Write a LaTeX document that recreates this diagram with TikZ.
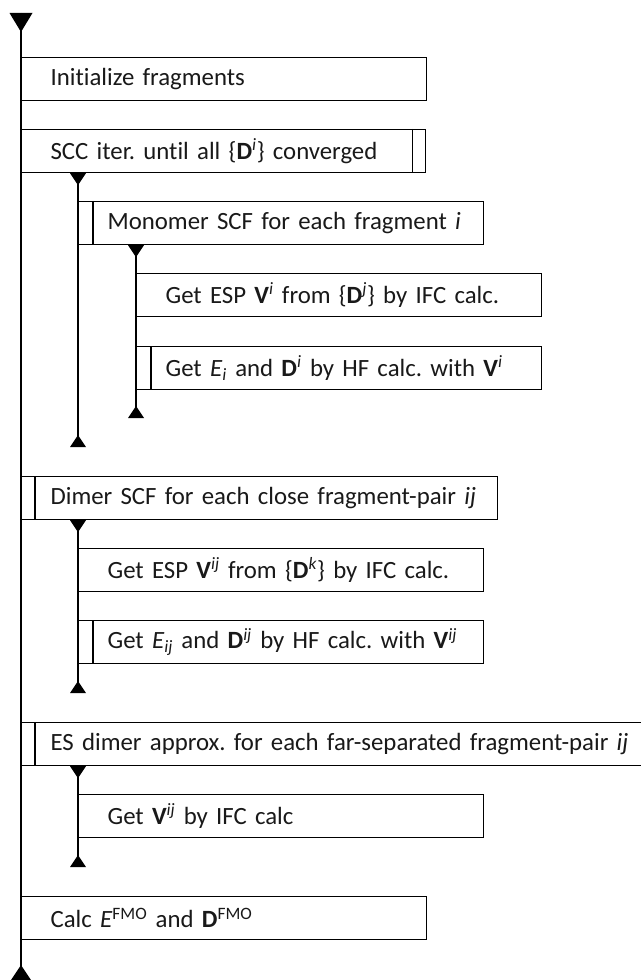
\documentclass[tikz,border=0pt]{standalone}
\usepackage{fontspec}
\setmainfont{Carlito}[Ligatures=NoCommon]
\usetikzlibrary{calc}
\frenchspacing
\begin{document}
\begin{tikzpicture}[x=0.75pt,y=-0.75pt,
  box/.style={draw, line width=0.9pt, anchor=north west, minimum height=32.25pt,
    inner ysep=0pt, inner xsep=21.75pt, text width=260.25pt, align=left,
    font=\fontsize{18.6}{21}\selectfont, text=black!90},
  mainline/.style={line width=1.5pt},
  subline/.style={line width=0.9pt},
  barline/.style={line width=0.9pt},
  smalldown/.pic={\fill (-8,0) -- (8,0) -- (0,12) -- cycle;},
  smallup/.pic={\fill (-8,0) -- (8,0) -- (0,-12) -- cycle;},
  bigdown/.pic={\fill (-11.5,0) -- (11.5,0) -- (0,19) -- cycle;},
  bigup/.pic={\fill (-12,0) -- (12,0) -- (0,-18) -- cycle;}]
\useasboundingbox[fill=white] (0,0) rectangle (641,980);

% main flow line
\coordinate (mtop) at (21,13);
\coordinate (mbot) at (21,983);
\draw[mainline] (mtop) -- (mbot);
\pic at (mtop) {bigdown};
\pic at (mbot) {bigup};

% boxes
\node[box] (b1) at (21,57) {\mbox{Initialize fragments}};
\node[box, text width=259.5pt] (b2) at (21,129) {\mbox{SCC iter. until all \{\textbf{D}\textsuperscript{\textit{i}}\} converged}};
\node[box] (b3) at (78,201) {\mbox{Monomer SCF for each fragment \textit{i}}};
\node[box] (b4) at (136,273) {\mbox{Get ESP \textbf{V}\textsuperscript{\textit{i}} from \{\textbf{D}\textsuperscript{\textit{j}}\} by IFC calc.}};
\node[box] (b5) at (136,346) {\mbox{Get \textit{E}\textsubscript{\textit{i}} and \textbf{D}\textsuperscript{\textit{i}} by HF calc. with \textbf{V}\textsuperscript{\textit{i}}}};
\node[box, text width=313.5pt] (b6) at (21,476) {\mbox{Dimer SCF for each close fragment-pair \textit{ij}}};
\node[box] (b7) at (78,548) {\mbox{Get ESP \textbf{V}\textsuperscript{\textit{ij}} from \{\textbf{D}\textsuperscript{\textit{k}}\} by IFC calc.}};
\node[box] (b8) at (78,620) {\mbox{Get \textit{E}\textsubscript{\textit{ij}} and \textbf{D}\textsuperscript{\textit{ij}} by HF calc. with \textbf{V}\textsuperscript{\textit{ij}}}};
\node[box, text width=451.5pt] (b9) at (21,722) {\mbox{ES dimer approx. for each far-separated fragment-pair \textit{ij}}};
\node[box] (b10) at (78,794) {\mbox{Get \textbf{V}\textsuperscript{\textit{ij}} by IFC calc}};
\node[box] (b11) at (21,896) {\mbox{Calc \textit{E}\textsuperscript{FMO} and \textbf{D}\textsuperscript{FMO}}};

% inner bars of loop boxes
\draw[barline] ($(b2.north east)+(-14,0)$) -- ($(b2.south east)+(-14,0)$);
\draw[barline] ($(b3.north west)+(15,0)$) -- ($(b3.south west)+(15,0)$);
\draw[barline] ($(b5.north west)+(15,0)$) -- ($(b5.south west)+(15,0)$);
\draw[barline] ($(b6.north west)+(14,0)$) -- ($(b6.south west)+(14,0)$);
\draw[barline] ($(b8.north west)+(15,0)$) -- ($(b8.south west)+(15,0)$);
\draw[barline] ($(b9.north west)+(14,0)$) -- ($(b9.south west)+(14,0)$);

% sub flow lines
\coordinate (s1b) at (78,447);
\coordinate (s2b) at (136,418);
\coordinate (s3b) at (78,693);
\coordinate (s4b) at (78,867);
\draw[subline] (b2.south -| s1b) coordinate (s1t) -- (s1b);
\draw[subline] (b3.south -| s2b) coordinate (s2t) -- (s2b);
\draw[subline] (b6.south -| s3b) coordinate (s3t) -- (s3b);
\draw[subline] (b9.south -| s4b) coordinate (s4t) -- (s4b);
\pic at (s1t) {smalldown};
\pic at (s2t) {smalldown};
\pic at (s3t) {smalldown};
\pic at (s4t) {smalldown};
\pic at (s1b) {smallup};
\pic at (s2b) {smallup};
\pic at (s3b) {smallup};
\pic at (s4b) {smallup};
\end{tikzpicture}
\end{document}
